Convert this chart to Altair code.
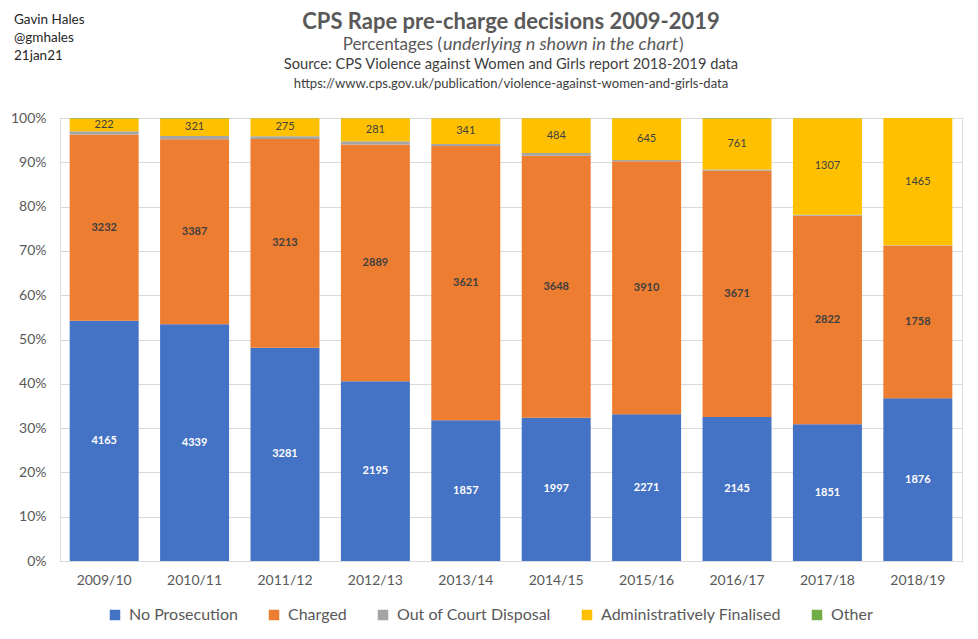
import altair as alt
import pandas as pd

years = ["2009/10", "2010/11", "2011/12", "2012/13", "2013/14",
         "2014/15", "2015/16", "2016/17", "2017/18", "2018/19"]
no_prosecution = [4165, 4339, 3281, 2195, 1857, 1997, 2271, 2145, 1851, 1876]
charged = [3232, 3387, 3213, 2889, 3621, 3648, 3910, 3671, 2822, 1758]
out_of_court = [55, 60, 45, 38, 28, 37, 22, 20, 15, 8]
admin_final = [222, 321, 275, 281, 341, 484, 645, 761, 1307, 1465]
other = [8, 10, 5, 3, 2, 5, 3, 6, 3, 1]

series = ["No Prosecution", "Charged", "Out of Court Disposal",
          "Administratively Finalised", "Other"]
colors = ["#4472C4", "#ED7D31", "#A5A5A5", "#FFC000", "#70AD47"]

author_lines = ["Gavin Hales", "@gmhales", "21jan21"]
title_text = "CPS Rape pre-charge decisions 2009-2019"
sub_parts = ["Percentages (", "underlying n shown in the chart", ")"]
source_text = "Source: CPS Violence against Women and Girls report 2018-2019 data"
url_text = "https://www.cps.gov.uk/publication/violence-against-women-and-girls-data"

rows = []
for vals, name in zip([no_prosecution, charged, out_of_court, admin_final, other], series):
    for y, v in zip(years, vals):
        rows.append({"year": y, "series": name, "value": v, "order": series.index(name)})
df = pd.DataFrame(rows)

FONT = "Lato"

base = alt.Chart(df)

xenc = alt.X("year:N", sort=years, title=None,
             scale=alt.Scale(paddingInner=0.237, paddingOuter=0.107),
             axis=alt.Axis(labelAngle=0, ticks=False, domain=True, domainColor="#D9D9D9",
                           labelColor="#595959", labelFontSize=14, labelFont=FONT,
                           labelPadding=12, grid=False))

bars = base.mark_bar().encode(
    x=xenc,
    y=alt.Y("value:Q", stack="normalize", title=None,
            scale=alt.Scale(domain=[0, 1]),
            axis=alt.Axis(values=[i / 10 for i in range(11)], format=".0%",
                          domain=False, ticks=False, labelColor="#595959",
                          labelFontSize=14, labelFont=FONT, labelPadding=14,
                          grid=True, gridColor="#D9D9D9")),
    color=alt.Color("series:N", sort=series,
                    scale=alt.Scale(domain=series, range=colors),
                    legend=alt.Legend(title=None, orient="none", direction="horizontal",
                                      legendX=47, legendY=489, symbolType="square",
                                      symbolSize=110, symbolStrokeWidth=0,
                                      labelFontSize=16, labelFont=FONT, labelLimit=0,
                                      labelColor="#595959", columnPadding=28,
                                      labelOffset=6)),
    order=alt.Order("order:Q", sort="ascending"),
)

lab = base.transform_joinaggregate(
    total="sum(value)", groupby=["year"]
).transform_window(
    cum="sum(value)", sort=[alt.SortField("order")], groupby=["year"], frame=[None, 0]
).transform_calculate(
    mid="(datum.cum - datum.value/2)/datum.total"
)

def label_layer(name, color, weight):
    return lab.transform_filter(alt.datum.series == name).mark_text(
        font=FONT, fontSize=11, fontWeight=weight, color=color, baseline="middle"
    ).encode(x=alt.X("year:N", sort=years), y=alt.Y("mid:Q"), text="value:Q")

t_np = label_layer("No Prosecution", "white", "bold")
t_ch = label_layer("Charged", "#3F3F3F", "bold")
t_af = label_layer("Administratively Finalised", "#404040", "normal")

def header(text, x, y, size, weight="normal", color="#595959", align="center", style="normal"):
    return alt.Chart(pd.DataFrame({"t": [text]})).mark_text(
        font=FONT, fontSize=size, fontWeight=weight, color=color, align=align,
        baseline="middle", fontStyle=style
    ).encode(x=alt.value(x), y=alt.value(y), text="t:N")

# image coords -> chart coords: x-60, y-118
hdr = [
    header(author_lines[0], 14 - 60, 20 - 118, 13.5, color="#262626", align="left"),
    header(author_lines[1], 14 - 60, 38 - 118, 13.5, color="#262626", align="left"),
    header(author_lines[2], 14 - 60, 56 - 118, 13.5, color="#262626", align="left"),
    header(title_text, 511 - 60, 22 - 118, 22, weight="bold"),
    header(sub_parts[0], 442 - 60, 45 - 118, 17, align="right"),
    header(sub_parts[1], 443 - 60, 45 - 118, 18, align="left", style="italic"),
    header(sub_parts[2], 679 - 60, 45 - 118, 17, align="left"),
    header(source_text, 511 - 60, 65 - 118, 14.7, color="#404040"),
    header(url_text, 511 - 60, 84 - 118, 13.1, color="#404040"),
]

chart = alt.layer(bars, t_np, t_ch, t_af, *hdr).properties(
    width=902, height=443,
    autosize=alt.AutoSizeParams(type="none"),
    padding={"left": 52, "top": 110, "right": 8, "bottom": 70},
).configure_view(stroke=None).configure(background="white")

chart.save("out.html", embed_options={"renderer": "svg", "actions": False})
